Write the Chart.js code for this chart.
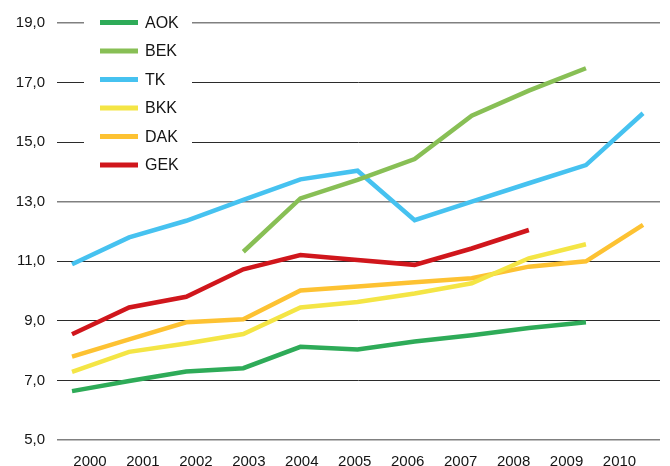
<!DOCTYPE html>
<html>
<head>
<meta charset="utf-8">
<script src="https://cdn.jsdelivr.net/npm/chart.js@4/dist/chart.umd.min.js"></script>
<style>
html,body{margin:0;padding:0;background:#fff;overflow:hidden;}
#wrap{width:670px;height:466px;position:relative;}
</style>
</head>
<body>
<div id="wrap"><canvas id="c" width="670" height="466"></canvas></div>
<script>
const years = [2000, 2001, 2002, 2003, 2004, 2005, 2006, 2007, 2008, 2009, 2010];
const xTickLabels = ['2000','2001','2002','2003','2004','2005','2006','2007','2008','2009','2010'];
const yTicks = [5, 7, 9, 11, 13, 15, 17, 19];
const yTickLabels = ['5,0','7,0','9,0','11,0','13,0','15,0','17,0','19,0'];
const seriesNames = ['AOK','BEK','TK','BKK','DAK','GEK'];
const seriesColors = ['#2eab58','#88bf55','#46c2f0','#f4e545','#fdc232','#d0161c'];
const AOK = [6.64, 6.98, 7.30, 7.41, 8.13, 8.04, 8.31, 8.52, 8.76, 8.95, null];
const BEK = [null, null, null, 11.32, 13.11, 13.73, 14.43, 15.89, 16.73, 17.48, null];
const TK  = [10.90, 11.80, 12.36, 13.06, 13.75, 14.04, 12.38, 13.00, 13.62, 14.23, 15.97];
const BKK = [7.29, 7.96, 8.24, 8.56, 9.45, 9.63, 9.92, 10.26, 11.10, 11.57, null];
const DAK = [7.80, 8.38, 8.95, 9.05, 10.02, 10.15, 10.30, 10.43, 10.82, 11.00, 12.22];
const GEK = [8.55, 9.45, 9.81, 10.73, 11.21, 11.04, 10.88, 11.43, 12.05, null, null];
const seriesValues = [AOK, BEK, TK, BKK, DAK, GEK];

const FONT = '"Liberation Sans", Arial, sans-serif';

const datasets = seriesNames.map((name, i) => ({
  label: name,
  data: years.map((yr, j) => ({x: yr, y: seriesValues[i][j]})),
  borderColor: seriesColors[i],
  backgroundColor: seriesColors[i],
  borderWidth: 4.5,
  borderCapStyle: 'butt',
  borderJoinStyle: 'miter',
  pointRadius: 0,
  pointHoverRadius: 0,
  tension: 0,
  spanGaps: false,
  fill: false,
  xAxisID: 'x'
}));

const legendPlugin = {
  id: 'customLegend',
  beforeDatasetsDraw(chart) {
    const ctx = chart.ctx;
    const x0 = 84, x1 = 192, top = 8, rowH = 28.5, firstY = 22.5;
    ctx.save();
    ctx.fillStyle = '#ffffff';
    ctx.fillRect(x0, top, x1 - x0, firstY + rowH * (seriesNames.length - 1) + 14 - top);
    ctx.restore();
  },
  afterDatasetsDraw(chart) {
    const ctx = chart.ctx;
    const rowH = 28.5, firstY = 22.5;
    ctx.save();
    seriesNames.forEach((name, i) => {
      const y = firstY + rowH * i;
      ctx.strokeStyle = seriesColors[i];
      ctx.lineWidth = 5;
      ctx.lineCap = 'butt';
      ctx.beginPath();
      ctx.moveTo(100, y);
      ctx.lineTo(138, y);
      ctx.stroke();
      ctx.fillStyle = '#141414';
      ctx.font = '16px ' + FONT;
      ctx.textBaseline = 'middle';
      ctx.textAlign = 'left';
      ctx.fillText(name, 145, y + 1);
    });
    ctx.restore();
  }
};

new Chart(document.getElementById('c'), {
  type: 'line',
  data: { datasets },
  plugins: [legendPlugin],
  options: {
    responsive: false,
    animation: false,
    devicePixelRatio: 1,
    layout: { padding: { top: 23, right: 10, left: 0, bottom: 0 } },
    plugins: { legend: { display: false }, tooltip: { enabled: false } },
    scales: {
      x: {
        type: 'linear',
        display: false,
        min: 1999.737,
        max: 2010.297
      },
      xl: {
        type: 'linear',
        position: 'bottom',
        min: 1999.377,
        max: 2010.765,
        afterBuildTicks(scale) { scale.ticks = years.map(v => ({ value: v })); },
        afterFit(scale) { scale.height = 26; },
        grid: { display: false, drawTicks: false },
        border: { display: false },
        ticks: {
          autoSkip: false,
          maxRotation: 0,
          padding: 12.5,
          color: '#141414',
          font: { family: FONT, size: 15 },
          callback: (v) => xTickLabels[years.indexOf(v)]
        }
      },
      y: {
        type: 'linear',
        min: 5,
        max: 19,
        afterBuildTicks(scale) { scale.ticks = yTicks.map(v => ({ value: v })); },
        afterFit(scale) { scale.width = 57; },
        border: { display: false },
        grid: {
          drawTicks: false,
          color: (c) => ([5, 13, 19].includes(c.tick && c.tick.value) ? '#808080' : '#2b2b2b'),
          lineWidth: (c) => ([5, 13, 19].includes(c.tick && c.tick.value) ? 1.5 : 1)
        },
        ticks: {
          padding: 12,
          color: '#141414',
          font: { family: FONT, size: 15 },
          callback: (v) => yTickLabels[yTicks.indexOf(v)]
        }
      }
    }
  }
});
</script>
</body>
</html>
